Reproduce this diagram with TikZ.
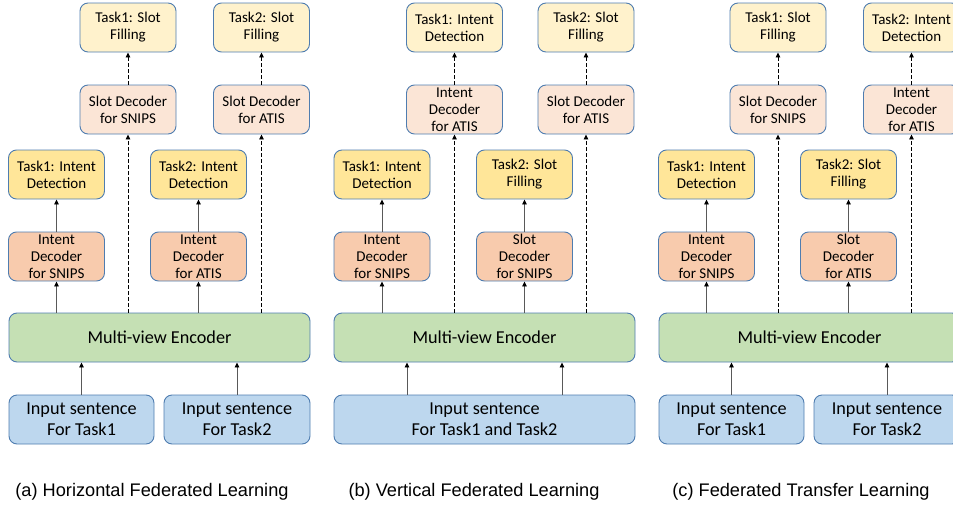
\documentclass[tikz,border=0pt]{standalone}
\usepackage{fontspec}
\setmainfont{Carlito}
\newfontfamily\capfont{Liberation Sans}
\usetikzlibrary{arrows.meta}
\definecolor{bord}{HTML}{4F7DB0}
\definecolor{ctopT}{HTML}{FFF2CC}
\definecolor{cmidT}{HTML}{FFE699}
\definecolor{ctopD}{HTML}{FBE5D6}
\definecolor{cmidD}{HTML}{F8CBAD}
\definecolor{cenc}{HTML}{C5E0B4}
\definecolor{cin}{HTML}{BDD7EE}
\definecolor{lgray}{HTML}{595959}
\tikzset{
  box/.style={draw=bord, line width=0.9pt, rounded corners=8pt, align=center, inner sep=0pt,
    minimum width=96pt, minimum height=49pt, font=\fontsize{15}{17}\selectfont},
  topT/.style={box, fill=ctopT},
  midT/.style={box, fill=cmidT},
  topD/.style={box, fill=ctopD},
  midD/.style={box, fill=cmidD},
  enc/.style={box, fill=cenc, minimum width=301pt, font=\fontsize{18.2}{21}\selectfont},
  inp/.style={box, fill=cin, minimum width=145pt, font=\fontsize{18.2}{21}\selectfont},
  sarr/.style={draw=lgray, line width=0.9pt, -{Triangle[width=4.5pt,length=5pt,color=black]}},
  darr/.style={draw=black, line width=0.9pt, dash pattern=on 3.5pt off 2.5pt, -{Triangle[width=4.5pt,length=5pt]}},
  captxt/.style={font=\capfont\fontsize{18.2}{21}\selectfont, inner sep=0pt}
}
\begin{document}
\begin{tikzpicture}[x=1pt,y=-1pt]
\useasboundingbox (0,0) rectangle (953,506);
% ---------- panel (a)
\node[topT] (aT1) at (128,27.5) {Task1: Slot\\Filling};
\node[topT] (aT2) at (261.5,27.5) {Task2: Slot\\Filling};
\node[topD] (aS1) at (128,109.5) {Slot Decoder\\for SNIPS};
\node[topD] (aS2) at (261.5,109.5) {Slot Decoder\\for ATIS};
\node[midT] (aI1) at (56.5,174.5) {Task1: Intent\\Detection};
\node[midT] (aI2) at (198.5,174.5) {Task2: Intent\\Detection};
\node[midD] (aD1) at (56.5,256.5) {Intent\\Decoder\\for SNIPS};
\node[midD] (aD2) at (198.5,256.5) {Intent\\Decoder\\for ATIS};
\node[enc] (aE) at (159.5,337.5) {Multi-view Encoder};
\node[inp] (aN1) at (81.5,419.5) {Input sentence\\For Task1};
\node[inp, minimum width=146pt] (aN2) at (237,419.5) {Input sentence\\For Task2};
\node[captxt] (aC) at (152,492) {(a) Horizontal Federated Learning};
\draw[sarr] (aN1.north) -- (aN1.north |- aE.south);
\draw[sarr] (aN2.north) -- (aN2.north |- aE.south);
\draw[sarr] (aD1.south |- aE.north) -- (aD1.south);
\draw[sarr] (aD2.south |- aE.north) -- (aD2.south);
\draw[sarr] (aD1.north) -- (aI1.south);
\draw[sarr] (aD2.north) -- (aI2.south);
\draw[darr] (aS1.south |- aE.north) -- (aS1.south);
\draw[darr] (aS2.south |- aE.north) -- (aS2.south);
\draw[darr] (aS1.north) -- (aT1.south);
\draw[darr] (aS2.north) -- (aT2.south);
% ---------- panel (b)
\node[topT] (bT1) at (454.5,27.5) {Task1: Intent\\Detection};
\node[topT] (bT2) at (586,27.5) {Task2: Slot\\Filling};
\node[topD] (bS1) at (454.5,109.5) {Intent\\Decoder\\for ATIS};
\node[topD] (bS2) at (586,109.5) {Slot Decoder\\for ATIS};
\node[midT] (bI1) at (382,174.5) {Task1: Intent\\Detection};
\node[midT] (bI2) at (524.5,174.5) {Task2: Slot\\Filling};
\node[midD] (bD1) at (382,256.5) {Intent\\Decoder\\for SNIPS};
\node[midD] (bD2) at (524.5,256.5) {Slot\\Decoder\\for SNIPS};
\node[enc] (bE) at (484.5,337.5) {Multi-view Encoder};
\node[inp, minimum width=301pt] (bN) at (484.5,419.5) {Input sentence\\For Task1 and Task2};
\node[captxt] (bC) at (474,492) {(b) Vertical Federated Learning};
\coordinate (bN1) at (407,395);
\coordinate (bN2) at (562,395);
\draw[sarr] (bN1) -- (bN1 |- bE.south);
\draw[sarr] (bN2) -- (bN2 |- bE.south);
\draw[sarr] (bD1.south |- bE.north) -- (bD1.south);
\draw[sarr] (bD2.south |- bE.north) -- (bD2.south);
\draw[sarr] (bD1.north) -- (bI1.south);
\draw[sarr] (bD2.north) -- (bI2.south);
\draw[darr] (bS1.south |- bE.north) -- (bS1.south);
\draw[darr] (bS2.south |- bE.north) -- (bS2.south);
\draw[darr] (bS1.north) -- (bT1.south);
\draw[darr] (bS2.north) -- (bT2.south);
% ---------- panel (c)
\node[topT] (cT1) at (778,27.5) {Task1: Slot\\Filling};
\node[topT] (cT2) at (911.5,27.5) {Task2: Intent\\Detection};
\node[topD] (cS1) at (778,109.5) {Slot Decoder\\for SNIPS};
\node[topD] (cS2) at (911.5,109.5) {Intent\\Decoder\\for ATIS};
\node[midT] (cI1) at (706.5,174.5) {Task1: Intent\\Detection};
\node[midT] (cI2) at (848.5,174.5) {Task2: Slot\\Filling};
\node[midD] (cD1) at (706.5,256.5) {Intent\\Decoder\\for SNIPS};
\node[midD] (cD2) at (848.5,256.5) {Slot\\Decoder\\for ATIS};
\node[enc] (cE) at (809.5,337.5) {Multi-view Encoder};
\node[inp] (cN1) at (731.5,419.5) {Input sentence\\For Task1};
\node[inp, minimum width=146pt] (cN2) at (887,419.5) {Input sentence\\For Task2};
\node[captxt] (cC) at (801,492) {(c) Federated Transfer Learning};
\draw[sarr] (cN1.north) -- (cN1.north |- cE.south);
\draw[sarr] (cN2.north) -- (cN2.north |- cE.south);
\draw[sarr] (cD1.south |- cE.north) -- (cD1.south);
\draw[sarr] (cD2.south |- cE.north) -- (cD2.south);
\draw[sarr] (cD1.north) -- (cI1.south);
\draw[sarr] (cD2.north) -- (cI2.south);
\draw[darr] (cS1.south |- cE.north) -- (cS1.south);
\draw[darr] (cS2.south |- cE.north) -- (cS2.south);
\draw[darr] (cS1.north) -- (cT1.south);
\draw[darr] (cS2.north) -- (cT2.south);
\end{tikzpicture}
\end{document}
